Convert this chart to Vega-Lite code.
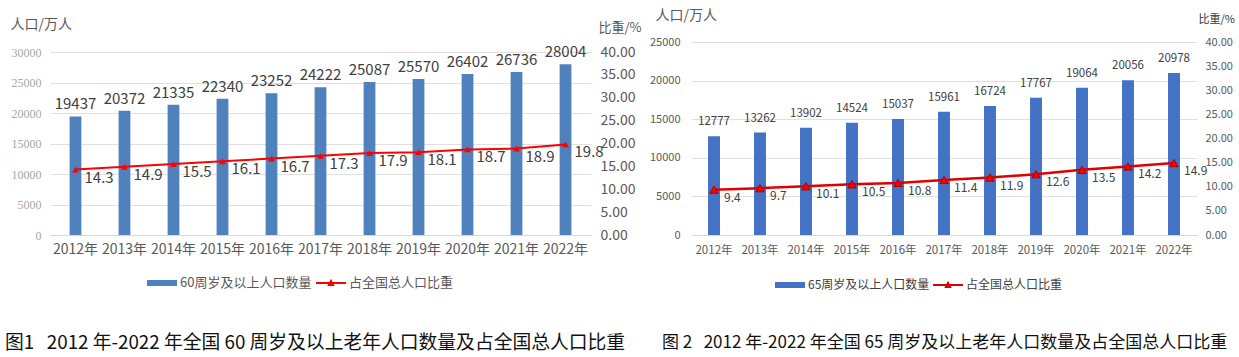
{
  "$schema": "https://vega.github.io/schema/vega-lite/v6.json",
  "background": "white",
  "padding": {"left": 5, "top": 8, "right": 0, "bottom": 0},
  "bounds": "flush",
  "spacing": 100,
  "config": {
    "font": "Noto Sans CJK SC",
    "view": {"stroke": null},
    "axis": {"domain": false, "ticks": false, "labelColor": "#595959", "gridColor": "#E0E0E0", "titleFontWeight": "normal", "titleColor": "#595959", "labelOverlap": false, "labelFlush": false},
    "axisX": {"domain": true, "domainColor": "#D9D9D9", "grid": false, "labelAngle": 0, "title": null}
  },
  "resolve": {"scale": {"color": "independent", "x": "independent", "y": "independent"}, "legend": {"color": "independent"}},
  "datasets": {
    "a": [
      {"year": "2012年", "pop": 19437, "ratio": 14.3},
      {"year": "2013年", "pop": 20372, "ratio": 14.9},
      {"year": "2014年", "pop": 21335, "ratio": 15.5},
      {"year": "2015年", "pop": 22340, "ratio": 16.1},
      {"year": "2016年", "pop": 23252, "ratio": 16.7},
      {"year": "2017年", "pop": 24222, "ratio": 17.3},
      {"year": "2018年", "pop": 25087, "ratio": 17.9},
      {"year": "2019年", "pop": 25570, "ratio": 18.1},
      {"year": "2020年", "pop": 26402, "ratio": 18.7},
      {"year": "2021年", "pop": 26736, "ratio": 18.9},
      {"year": "2022年", "pop": 28004, "ratio": 19.8}
    ],
    "b": [
      {"year": "2012年", "pop": 12777, "ratio": 9.4},
      {"year": "2013年", "pop": 13262, "ratio": 9.7},
      {"year": "2014年", "pop": 13902, "ratio": 10.1},
      {"year": "2015年", "pop": 14524, "ratio": 10.5},
      {"year": "2016年", "pop": 15037, "ratio": 10.8},
      {"year": "2017年", "pop": 15961, "ratio": 11.4},
      {"year": "2018年", "pop": 16724, "ratio": 11.9},
      {"year": "2019年", "pop": 17767, "ratio": 12.6},
      {"year": "2020年", "pop": 19064, "ratio": 13.5},
      {"year": "2021年", "pop": 20056, "ratio": 14.2},
      {"year": "2022年", "pop": 20978, "ratio": 14.9}
    ]
  },
  "hconcat": [
    {
      "width": 541,
      "height": 193,
      "data": {"name": "a"},
      "title": {"text": "图1\u00a0\u00a0\u00a02012\u00a0年-2022\u00a0年全国\u00a060\u00a0周岁及以上老年人口数量及占全国总人口比重", "orient": "bottom", "anchor": "start", "frame": "group", "dx": -45, "offset": 44, "fontSize": 18.8, "fontWeight": "normal", "color": "#111111"},
      "encoding": {
        "x": {"field": "year", "type": "ordinal", "sort": null, "scale": {"paddingInner": 0.76, "paddingOuter": 0.4}, "axis": {"labelFontSize": 14, "labelPadding": 7, "labelColor": "#595959"}}
      },
      "resolve": {"scale": {"y": "independent"}},
      "layer": [
        {
          "encoding": {
            "y": {"field": "pop", "type": "quantitative", "scale": {"domain": [0, 31640], "nice": false},
              "axis": {"values": [0, 5000, 10000, 15000, 20000, 25000, 30000], "tickCount": 7, "format": "d", "grid": true, "title": "人口/万人", "titleAngle": 0, "titleX": -40, "titleY": -18, "titleAlign": "left", "titleBaseline": "middle", "titleFontSize": 14, "labelFont": "Liberation Serif", "labelFontSize": 12, "labelColor": "#A6A6A6", "labelPadding": 9}}
          },
          "layer": [
            {
              "mark": {"type": "bar"},
              "encoding": {
                "color": {"datum": "60周岁及以上人口数量", "type": "nominal",
                  "scale": {"domain": ["60周岁及以上人口数量", "占全国总人口比重"], "range": ["#4F81BD", "#FF0000"]},
                  "legend": {"orient": "none", "legendX": 97, "legendY": 226, "direction": "horizontal", "title": null, "symbolSize": 900, "labelFontSize": 13, "labelColor": "#595959", "columnPadding": 4, "labelOffset": 3, "padding": 0,
                    "encoding": {"symbols": {
                      "shape": {"value": {"expr": "datum.value === '60周岁及以上人口数量' ? 'M-1,-0.2H1V0.2H-1Z' : 'M-1,-0.06H1V0.06H-1Z M-0.25,0.2L0,-0.28L0.25,0.2Z'"}},
                      "fill": {"value": {"expr": "datum.value === '60周岁及以上人口数量' ? '#4F81BD' : '#FF0000'"}},
                      "stroke": {"value": "transparent"},
                      "strokeWidth": {"value": 0},
                      "opacity": {"value": 1},
                      "fillOpacity": {"value": 1}
                    }}}
                }
              }
            },
            {
              "mark": {"type": "text", "baseline": "bottom", "dy": -4, "fontSize": 15, "color": "#404040"},
              "encoding": {
                "text": {"field": "pop", "type": "quantitative", "format": "d"}
              }
            }
          ]
        },
        {
          "encoding": {
            "y": {"field": "ratio", "type": "quantitative", "scale": {"domain": [0, 42.19], "nice": false},
              "axis": {"orient": "right", "values": [0, 5, 10, 15, 20, 25, 30, 35, 40], "tickCount": 9, "format": ".2f", "grid": false, "title": "比重/%", "titleAngle": 0, "titleX": 7, "titleY": -15, "titleAlign": "left", "titleBaseline": "middle", "titleFontSize": 13, "labelFontSize": 14, "labelColor": "#595959", "labelPadding": 9}}
          },
          "layer": [
            {
              "mark": {"type": "line", "strokeWidth": 2},
              "encoding": {
                "color": {"datum": "占全国总人口比重", "type": "nominal"}
              }
            },
            {
              "mark": {"type": "point", "shape": "triangle-up", "filled": true, "size": 45, "color": "#FF0000", "opacity": 1}
            },
            {
              "mark": {"type": "text", "align": "left", "baseline": "middle", "dx": 9, "dy": 8, "fontSize": 15, "color": "#404040"},
              "encoding": {
                "text": {"field": "ratio", "type": "quantitative", "format": ".1f"}
              }
            }
          ]
        }
      ]
    },
    {
      "width": 506,
      "height": 193,
      "data": {"name": "b"},
      "title": {"text": "图\u00a02\u00a0\u00a0\u00a02012\u00a0年-2022\u00a0年全国\u00a065\u00a0周岁及以上老年人口数量及占全国总人口比重", "orient": "bottom", "anchor": "start", "frame": "group", "dx": -29, "offset": 44, "fontSize": 17, "fontWeight": "normal", "color": "#111111"},
      "encoding": {
        "x": {"field": "year", "type": "ordinal", "sort": null, "scale": {"paddingInner": 0.74, "paddingOuter": 0.37}, "axis": {"labelFontSize": 11.5, "labelPadding": 9, "labelColor": "#595959"}}
      },
      "resolve": {"scale": {"y": "independent"}},
      "layer": [
        {
          "encoding": {
            "y": {"field": "pop", "type": "quantitative", "scale": {"domain": [0, 25000], "nice": false},
              "axis": {"values": [0, 5000, 10000, 15000, 20000, 25000], "tickCount": 6, "format": "d", "grid": true, "title": "人口/万人", "titleAngle": 0, "titleX": -36, "titleY": -27, "titleAlign": "left", "titleBaseline": "middle", "titleFontSize": 14, "labelFontSize": 11, "labelColor": "#595959", "labelPadding": 11}}
          },
          "layer": [
            {
              "mark": {"type": "bar"},
              "encoding": {
                "color": {"datum": "65周岁及以上人口数量", "type": "nominal",
                  "scale": {"domain": ["65周岁及以上人口数量", "占全国总人口比重"], "range": ["#4472C4", "#E00000"]},
                  "legend": {"orient": "none", "legendX": 84, "legendY": 228, "direction": "horizontal", "title": null, "symbolSize": 900, "labelFontSize": 12, "labelColor": "#404040", "columnPadding": 3, "labelOffset": 3, "padding": 0,
                    "encoding": {"symbols": {
                      "shape": {"value": {"expr": "datum.value === '65周岁及以上人口数量' ? 'M-1,-0.2H1V0.2H-1Z' : 'M-1,-0.06H1V0.06H-1Z M-0.25,0.2L0,-0.28L0.25,0.2Z'"}},
                      "fill": {"value": {"expr": "datum.value === '65周岁及以上人口数量' ? '#4472C4' : '#E00000'"}},
                      "stroke": {"value": "transparent"},
                      "strokeWidth": {"value": 0},
                      "opacity": {"value": 1},
                      "fillOpacity": {"value": 1}
                    }}}
                }
              }
            },
            {
              "mark": {"type": "text", "baseline": "bottom", "dy": -9, "fontSize": 11.5, "color": "#404040"},
              "encoding": {
                "text": {"field": "pop", "type": "quantitative", "format": "d"}
              }
            }
          ]
        },
        {
          "encoding": {
            "y": {"field": "ratio", "type": "quantitative", "scale": {"domain": [0, 40], "nice": false},
              "axis": {"orient": "right", "values": [0, 5, 10, 15, 20, 25, 30, 35, 40], "tickCount": 9, "format": ".2f", "grid": false, "title": "比重/%", "titleAngle": 0, "titleX": 1, "titleY": -23, "titleAlign": "left", "titleBaseline": "middle", "titleFontSize": 11, "titleColor": "#333333", "labelFontSize": 11, "labelColor": "#595959", "labelPadding": 8}}
          },
          "layer": [
            {
              "mark": {"type": "line", "strokeWidth": 2.5},
              "encoding": {
                "color": {"datum": "占全国总人口比重", "type": "nominal"}
              }
            },
            {
              "mark": {"type": "point", "shape": "triangle-up", "filled": true, "size": 70, "fill": "#FF0000", "stroke": "#B00000", "strokeWidth": 1, "opacity": 1}
            },
            {
              "mark": {"type": "text", "align": "left", "baseline": "middle", "dx": 10, "dy": 8, "fontSize": 12, "color": "#404040"},
              "encoding": {
                "text": {"field": "ratio", "type": "quantitative", "format": ".1f"}
              }
            }
          ]
        }
      ]
    }
  ]
}
